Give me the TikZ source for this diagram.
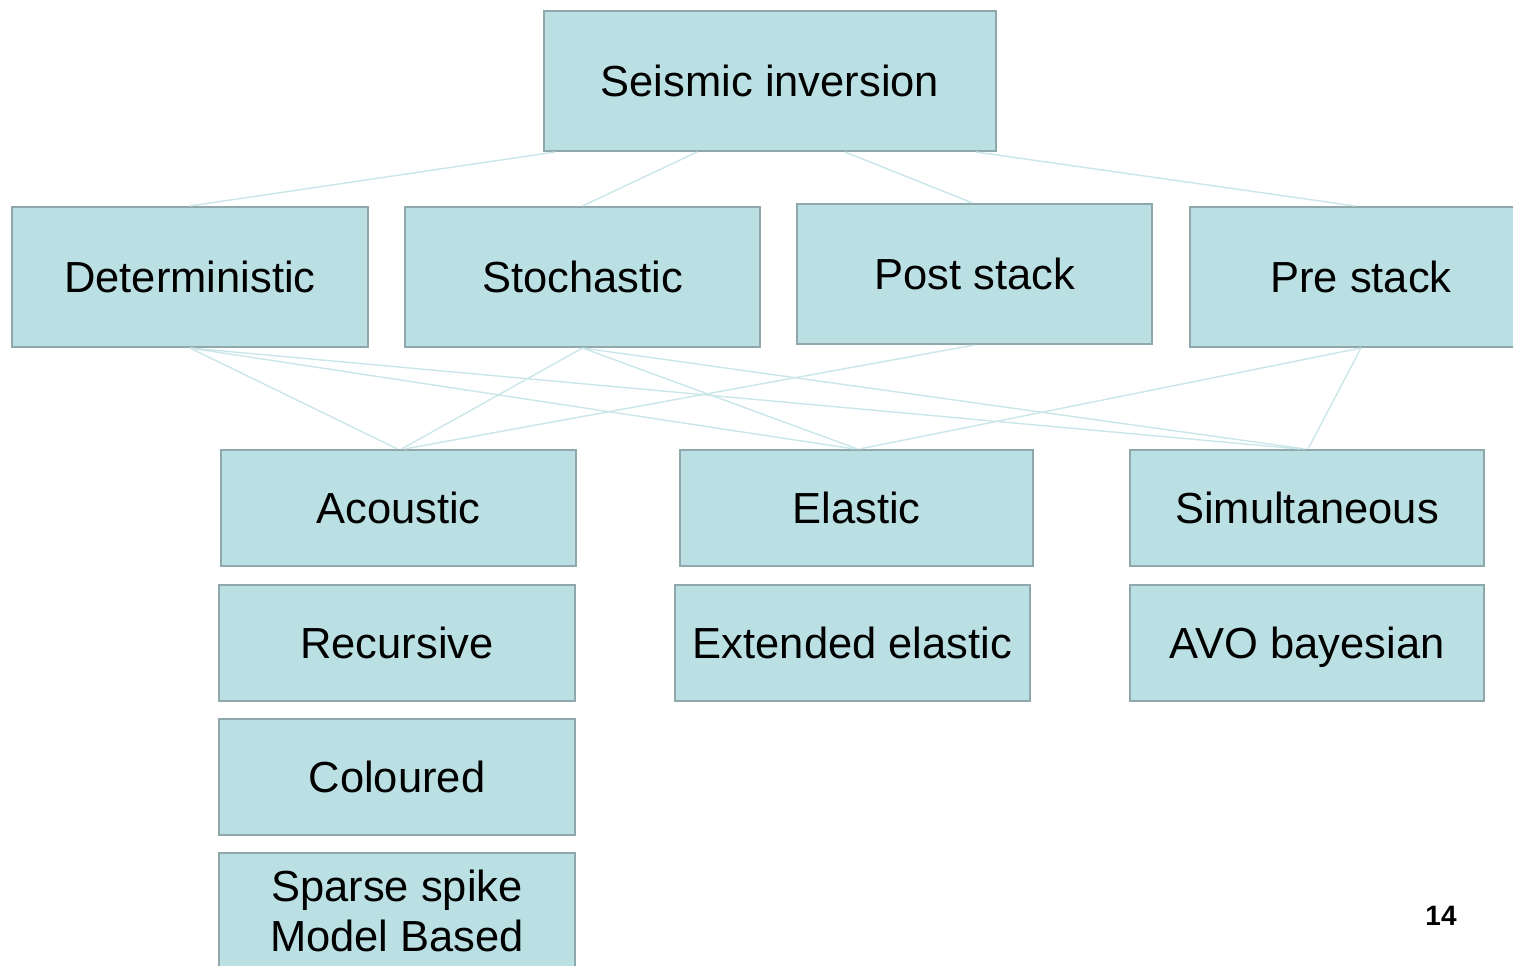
\documentclass[tikz,border=0pt]{standalone}
\usepackage{fontspec}
\setmainfont{Liberation Sans}
\usetikzlibrary{calc}
\definecolor{boxfill}{RGB}{187,224,228}
\definecolor{boxline}{RGB}{143,168,171}
\definecolor{linkc}{RGB}{202,230,233}
\begin{document}
\begin{tikzpicture}[x=1pt,y=-1pt,
  box/.style={draw=boxline,line width=2pt,fill=boxfill,inner sep=0pt,
    minimum width=355pt,minimum height=116pt,align=center,
    font=\fontsize{43.5}{50}\selectfont},
  one/.style={text height=31pt,text depth=0pt},
  tall/.style={minimum height=140pt},
  link/.style={draw=linkc,line width=1.4pt}]
\path[use as bounding box,clip] (0,0) rectangle (1513,966);
% nodes
\node[box,one,tall,minimum width=452pt] (top) at (770,81) {Seismic inversion};
\node[box,one,tall,minimum width=356pt] (det) at (190,277) {Deterministic};
\node[box,one,tall] (sto) at (582.5,277) {Stochastic};
\node[box,one,tall] (post) at (974.5,274) {Post stack};
\node[box,one,tall,minimum width=342pt] (pre) at (1361,277) {Pre stack};
\node[box,one] (aco) at (398.5,508) {Acoustic};
\node[box,one,minimum width=353pt] (ela) at (856.5,508) {Elastic};
\node[box,one,minimum width=354pt] (sim) at (1307,508) {Simultaneous};
\node[box,one,minimum width=356pt] (rec) at (397,643) {Recursive};
\node[box,one] (ext) at (852.5,643) {Extended elastic};
\node[box,one,minimum width=354pt] (avo) at (1307,643) {AVO bayesian};
\node[box,one,minimum width=356pt] (col) at (397,777) {Coloured};
\node[box,minimum width=356pt] (spa) at (397,911) {Sparse spike\\Model Based};
\node[font=\fontsize{28}{32}\selectfont\bfseries] (pg) at (1441,916) {14};
% connectors
\draw[link] ([xshift=-215pt]top.south) -- (det.north);
\draw[link] ([xshift=-73pt]top.south) -- (sto.north);
\draw[link] ([xshift=75pt]top.south) -- ([xshift=-2pt]post.north);
\draw[link] ([xshift=206pt]top.south) -- ([xshift=-6pt]pre.north);
\draw[link] (det.south) -- ([xshift=-1pt]aco.north);
\draw[link] (det.south) -- ([xshift=-2pt]ela.north);
\draw[link] (det.south) -- ([xshift=-7pt]sim.north);
\draw[link] (sto.south) -- ([xshift=3pt]aco.north);
\draw[link] (sto.south) -- ([xshift=1pt]ela.north);
\draw[link] (sto.south) -- ([xshift=-2pt]sim.north);
\draw[link] (post.south) -- ([xshift=6pt]aco.north);
\draw[link] (pre.south) -- ([xshift=3pt]ela.north);
\draw[link] (pre.south) -- ([xshift=1pt]sim.north);
\end{tikzpicture}
\end{document}
